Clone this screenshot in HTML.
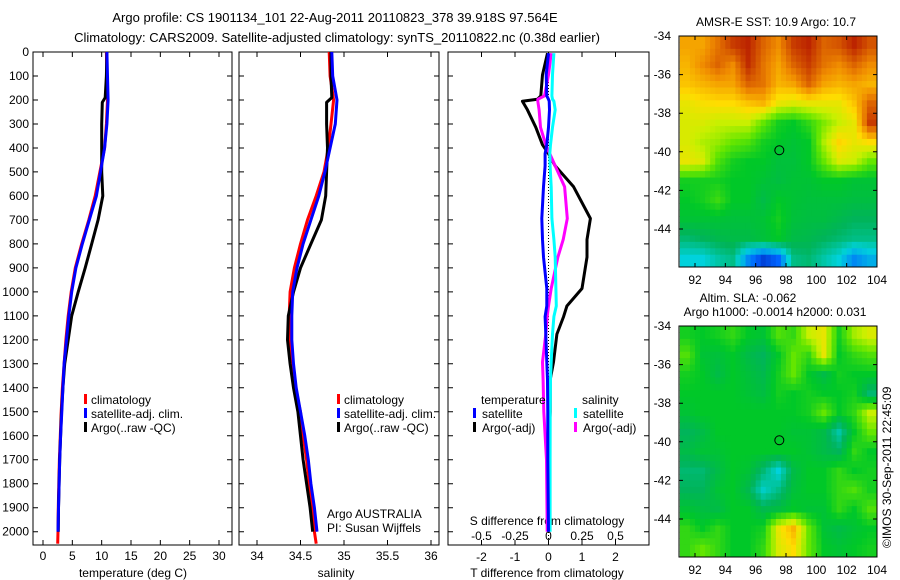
<!DOCTYPE html>
<html><head><meta charset="utf-8">
<style>
html,body{margin:0;padding:0;background:#fff;}
svg{display:block;font-family:"Liberation Sans",Arial,sans-serif;}
text{fill:#000;}
</style></head>
<body>
<svg id="fig" width="900" height="580" viewBox="0 0 900 580" xmlns="http://www.w3.org/2000/svg">
<text x="335" y="22" font-size="13" text-anchor="middle">Argo profile: CS 1901134_101 22-Aug-2011 20110823_378 39.918S 97.564E</text>
<text x="337" y="42" font-size="13" text-anchor="middle">Climatology: CARS2009. Satellite-adjusted climatology: synTS_20110822.nc (0.38d earlier)</text>
<text x="776" y="26" font-size="12" text-anchor="middle">AMSR-E SST: 10.9 Argo: 10.7</text>
<text x="748" y="302" font-size="12" text-anchor="middle">Altim. SLA: -0.062</text>
<text x="775" y="316" font-size="12" text-anchor="middle">Argo h1000: -0.0014 h2000: 0.031</text>
<text transform="translate(891,548) rotate(-90)" font-size="12">©IMOS 30-Sep-2011 22:45:09</text>
<g id="g"></g>
</svg>
<script>
// ---- data ----
const depthTicks = [0,100,200,300,400,500,600,700,800,900,1000,1100,1200,1300,1400,1500,1600,1700,1800,1900,2000];
const tempTicks = [0,5,10,15,20,25,30];
const salTicks = [34,34.5,35,35.5,36];
const salTickLabels = ["34","34.5","35","35.5","36"];
const tdTicks = [-2,-1,0,1,2];
const sdTicks = [-0.5,-0.25,0,0.25,0.5];
const sdTickLabels = ["-0.5","-0.25","0","0.25","0.5"];

const climDepth = [0,100,200,300,400,500,600,700,800,900,1000,1100,1200,1300,1400,1500,1600,1700,1800,1900,2000,2050];
const climTemp = [10.8,10.9,11.0,10.8,10.5,9.7,8.9,7.8,6.6,5.5,4.8,4.3,3.9,3.6,3.3,3.1,2.95,2.8,2.7,2.6,2.55,2.5];
const satTemp  = [10.9,11.0,11.1,10.9,10.5,9.8,9.1,7.9,6.7,5.6,4.9,4.4,4.0,3.6,3.4,3.2,3.0,2.85,2.75,2.65,2.55,null];
const argoDepth = [0,100,190,210,300,400,500,600,700,800,900,1000,1100,1200,1300,1400,1500,1600,1700,1800,1900,2000];
const argoTemp = [10.9,10.8,10.6,10.1,10.0,10.0,10.0,10.2,9.4,8.3,7.2,6.0,4.9,4.3,3.7,3.4,3.15,3.0,2.85,2.75,2.65,2.6];

const climSal = [34.83,34.84,34.88,34.85,34.82,34.77,34.68,34.58,34.50,34.43,34.38,34.37,34.38,34.41,34.44,34.50,34.53,34.57,34.60,34.63,34.66,34.68];
const satSal  = [34.86,34.87,34.92,34.90,34.84,34.78,34.71,34.62,34.53,34.46,34.41,34.40,34.40,34.42,34.45,34.50,34.55,34.59,34.62,34.66,34.69,null];
const argoSal = [34.85,34.85,34.86,34.80,34.80,34.81,34.80,34.79,34.74,34.62,34.50,34.42,34.36,34.35,34.38,34.42,34.47,34.50,34.53,34.57,34.61,34.64];

const diffDepth = [5,95,183,197,205,241,314,387,424,475,562,694,782,855,986,1059,1103,1176,1293,1366,1500,1700,2000];
const tDiffArgo = [-0.03,-0.18,-0.23,-0.33,-0.78,-0.63,-0.38,-0.18,0.0,0.2,0.75,1.25,1.15,1.15,1.0,0.55,0.45,0.25,0.15,0.05,0.05,0.0,0.0];
const sDiffArgo = [0.02,0.0,-0.03,-0.08,-0.08,-0.07,-0.06,-0.02,0.01,0.05,0.12,0.14,0.11,0.07,0.02,0.0,-0.01,-0.02,-0.045,-0.04,-0.035,-0.015,-0.01];
const tDiffSat  = [0.0,-0.07,-0.05,0.0,0.02,0.03,0.0,-0.05,-0.1,-0.1,-0.15,-0.2,-0.18,-0.15,-0.05,-0.05,-0.1,-0.08,-0.05,-0.03,-0.02,-0.02,0.0];
const sDiffSat  = [0.04,0.03,0.025,0.03,0.04,0.05,0.03,0.015,0.01,0.012,0.02,0.025,0.04,0.05,0.055,0.058,0.04,0.03,0.02,0.015,0.013,0.012,0.012];

const mapLonTicks = [92,94,96,98,100,102,104];
const mapLatTicks = [-34,-36,-38,-40,-42,-44];
const argoLon = 97.56, argoLat = -39.92;
const sstGrid = [
[0.82,0.82,0.88,0.95,0.98,0.9,0.85,0.95,0.98,0.9,0.92,0.98,0.92],
[0.8,0.85,0.9,0.85,0.97,0.88,0.82,0.9,0.95,0.88,0.85,0.9,0.85],
[0.78,0.8,0.82,0.82,0.9,0.88,0.8,0.82,0.9,0.82,0.8,0.82,0.8],
[0.72,0.74,0.75,0.75,0.78,0.8,0.72,0.7,0.72,0.72,0.72,0.78,0.9],
[0.7,0.7,0.68,0.68,0.68,0.6,0.52,0.5,0.55,0.62,0.68,0.72,0.95],
[0.7,0.66,0.64,0.6,0.58,0.52,0.5,0.48,0.5,0.66,0.76,0.72,0.75],
[0.72,0.7,0.58,0.52,0.5,0.5,0.47,0.47,0.5,0.6,0.7,0.68,0.6],
[0.52,0.52,0.52,0.5,0.5,0.48,0.46,0.48,0.48,0.5,0.5,0.48,0.48],
[0.5,0.52,0.56,0.5,0.5,0.45,0.5,0.48,0.47,0.47,0.47,0.46,0.46],
[0.48,0.48,0.48,0.47,0.47,0.48,0.52,0.47,0.46,0.46,0.44,0.42,0.42],
[0.4,0.42,0.44,0.45,0.45,0.47,0.5,0.45,0.44,0.42,0.4,0.38,0.38],
[0.3,0.3,0.35,0.38,0.2,0.1,0.15,0.38,0.4,0.35,0.3,0.2,0.25]];
const slaGrid = [
[0.52,0.5,0.52,0.55,0.5,0.48,0.58,0.55,0.68,0.72,0.52,0.65,0.7],
[0.58,0.48,0.47,0.5,0.45,0.42,0.5,0.6,0.55,0.72,0.5,0.55,0.58],
[0.52,0.5,0.45,0.5,0.47,0.44,0.52,0.6,0.5,0.45,0.52,0.5,0.5],
[0.5,0.5,0.5,0.5,0.48,0.46,0.52,0.5,0.52,0.5,0.5,0.52,0.4],
[0.48,0.5,0.5,0.5,0.5,0.5,0.5,0.5,0.52,0.6,0.5,0.55,0.68],
[0.42,0.45,0.5,0.5,0.5,0.5,0.5,0.48,0.48,0.45,0.35,0.5,0.6],
[0.45,0.48,0.48,0.5,0.5,0.5,0.5,0.5,0.48,0.45,0.42,0.55,0.5],
[0.4,0.4,0.45,0.5,0.48,0.4,0.3,0.45,0.5,0.5,0.55,0.5,0.52],
[0.42,0.42,0.48,0.5,0.44,0.32,0.38,0.47,0.5,0.5,0.55,0.58,0.52],
[0.48,0.46,0.45,0.5,0.5,0.44,0.46,0.5,0.48,0.48,0.55,0.5,0.58],
[0.55,0.5,0.55,0.5,0.5,0.52,0.72,0.8,0.6,0.48,0.45,0.48,0.5],
[0.55,0.6,0.55,0.5,0.5,0.55,0.7,0.75,0.6,0.5,0.48,0.5,0.52]];

// ---- helpers ----
const NS="http://www.w3.org/2000/svg";
const G=document.getElementById('g');
function mk(tag,attrs,parent){const e=document.createElementNS(NS,tag);for(const k in attrs)e.setAttribute(k,attrs[k]);(parent||G).appendChild(e);return e;}
const TOP=52,BOT=545;
const yD=d=>TOP+d*(531.7-TOP)/2000;
function lin(d0,d1,p0,p1){return v=>p0+(v-d0)*(p1-p0)/(d1-d0);}
const xT=lin(0,30,43,219), xS=lin(34,36,257,431), xTd=lin(-3,3,448,649), xSd=lin(-0.75,0.75,448,649);

function panel(name,x0,x1){
  const r=mk('rect',{x:x0,y:TOP,width:x1-x0,height:BOT-TOP,fill:'none',stroke:'#000','stroke-width':1});
  
  
  depthTicks.forEach(d=>{
    const y=yD(d);
    const t=mk('path',{d:`M${x0},${y}h5M${x1},${y}h-5`,stroke:'#000','stroke-width':1});
    
    
  });
}
function xticks(name,ticks,labels,sc,y,inner){
  ticks.forEach((v,i)=>{
    const x=sc(v);
    if(inner){const t=mk('path',{d:`M${x},${BOT}v-5M${x},${TOP}v5`,stroke:'#000','stroke-width':1});
      
      }
    const l=mk('text',{x:x,y:y,'font-size':12,'text-anchor':'middle'});
    l.textContent=labels?labels[i]:String(v);
    
    
  });
}
function line(name,ds,vs,sc,color){
  let pts=[];
  ds.forEach((d,i)=>{if(vs[i]!==null&&vs[i]!==undefined)pts.push(sc(vs[i]).toFixed(1)+','+yD(d).toFixed(1));});
  const p=mk('polyline',{points:pts.join(' '),fill:'none',stroke:color,'stroke-width':3,'stroke-linejoin':'round'});
  
  
}
function txt(name,x,y,s,size,anchor){
  const t=mk('text',{x:x,y:y,'font-size':size||12,'text-anchor':anchor||'start'});t.textContent=s;
  
  
  return t;
}
function legMark(name,x,y,color){
  const r=mk('rect',{x:x,y:y-10,width:3,height:10,fill:color});
  
  
}

depthTicks.forEach(d=>{
  const t=mk('text',{x:29,y:yD(d)+4,'font-size':12,'text-anchor':'end'});t.textContent=d;
  
  
});

// panel 1 temperature
panel('temperature-panel',33,232);
xticks('temperature-x',tempTicks,null,xT,560,true);
txt('temperature-x-title',133,577,'temperature (deg C)',12,'middle');
line('temperature-climatology-line',climDepth,climTemp,xT,'#ff0000');
line('temperature-argo-line',argoDepth,argoTemp,xT,'#000000');
line('temperature-satellite-line',climDepth,satTemp,xT,'#0000ff');
legMark('legend-climatology-marker',84,404,'#ff0000');txt('legend-climatology',91,404,'climatology');
legMark('legend-satellite-marker',84,418,'#0000ff');txt('legend-satellite',91,418,'satellite-adj. clim.');
legMark('legend-argo-marker',84,432,'#000000');txt('legend-argo',91,432,'Argo(..raw -QC)');

// panel 2 salinity
panel('salinity-panel',239,439);
xticks('salinity-x',salTicks,salTickLabels,xS,560,true);
txt('salinity-x-title',336,577,'salinity',12,'middle');
line('salinity-climatology-line',climDepth,climSal,xS,'#ff0000');
line('salinity-argo-line',argoDepth,argoSal,xS,'#000000');
line('salinity-satellite-line',climDepth,satSal,xS,'#0000ff');
legMark('legend2-climatology-marker',337,404,'#ff0000');txt('legend2-climatology',344,404,'climatology');
legMark('legend2-satellite-marker',337,418,'#0000ff');txt('legend2-satellite',344,418,'satellite-adj. clim.');
legMark('legend2-argo-marker',337,432,'#000000');txt('legend2-argo',344,432,'Argo(..raw -QC)');
txt('argo-australia-label',327,518,'Argo AUSTRALIA');
txt('pi-label',327,532,'PI: Susan Wijffels');

// panel 3 differences
panel('difference-panel',448,649);
const z=mk('line',{x1:xTd(0),x2:xTd(0),y1:TOP,y2:BOT,stroke:'#000','stroke-width':1,'stroke-dasharray':'1,2'});


xticks('t-diff-x',tdTicks,null,xTd,561,true);
xticks('s-diff-x',sdTicks,sdTickLabels,xSd,540,false);
txt('s-diff-title',547,525,'S difference from climatology',12,'middle');
txt('t-diff-title',547,577,'T difference from climatology',12,'middle');
line('t-diff-argo-line',diffDepth,tDiffArgo,xTd,'#000000');
line('s-diff-argo-line',diffDepth,sDiffArgo,xSd,'#ff00ff');
line('s-diff-satellite-line',diffDepth,sDiffSat,xSd,'#00ffff');
line('t-diff-satellite-line',diffDepth,tDiffSat,xTd,'#0000ff');
txt('legend3-temperature-head',481,404,'temperature');
legMark('legend3-t-satellite-marker',473,418,'#0000ff');txt('legend3-t-satellite',482,418,'satellite');
legMark('legend3-t-argo-marker',473,432,'#000000');txt('legend3-t-argo',482,432,'Argo(-adj)');
txt('legend3-salinity-head',582,404,'salinity');
legMark('legend3-s-satellite-marker',574,418,'#00ffff');txt('legend3-s-satellite',583,418,'satellite');
legMark('legend3-s-argo-marker',574,432,'#ff00ff');txt('legend3-s-argo',583,432,'Argo(-adj)');

// maps
const stops=[[0,[0,0,140]],[0.15,[0,100,255]],[0.3,[0,210,220]],[0.42,[0,180,90]],[0.5,[0,200,40]],[0.6,[100,230,0]],[0.68,[200,240,0]],[0.75,[255,220,0]],[0.85,[240,140,0]],[1,[180,20,0]]];
function cmap(v){v=Math.max(0,Math.min(1,v));for(let i=1;i<stops.length;i++){if(v<=stops[i][0]){const a=stops[i-1],b=stops[i],f=(v-a[0])/(b[0]-a[0]);return 'rgb('+a[1].map((c,k)=>Math.round(c+(b[1][k]-c)*f)).join(',')+')';}}return 'rgb(180,20,0)';}
function sample(grid,fr,fc){
  const rows=grid.length,cols=grid[0].length;
  fr=Math.max(0,Math.min(rows-1,fr));fc=Math.max(0,Math.min(cols-1,fc));
  const r0=Math.floor(fr),c0=Math.floor(fc),r1=Math.min(rows-1,r0+1),c1=Math.min(cols-1,c0+1);
  const a=fr-r0,b=fc-c0;
  return (grid[r0][c0]*(1-b)+grid[r0][c1]*b)*(1-a)+(grid[r1][c0]*(1-b)+grid[r1][c1]*b)*a;
}
function map(name,grid,top){
  const L=679,R=877,B=top+231;
  const xL=lin(92,104,695,877), yL=lin(-34,-44,top,top+193);
  const g=mk('g',{});
  
  
  const rows=grid.length, cols=grid[0].length, SUB=3;
  for(let r=0;r<rows*SUB;r++)for(let c=0;c<cols*SUB;c++){
    const lon0=91+c/SUB, lon1=91+(c+1)/SUB, lat0=-34-r/SUB, lat1=-34-(r+1)/SUB;
    const x0=xL(lon0),x1=xL(lon1),y0=yL(lat0),y1=yL(lat1);
    if(x0>=R||y0>=B)continue;
    const v=sample(grid,(r+0.5)/SUB-0.5,(c+0.5)/SUB-0.5);
    const cx=Math.max(L,x0),cy=Math.max(top,y0);
    const cell=mk('rect',{x:cx,y:cy,width:Math.min(R,x1)-cx+0.5,height:Math.min(B,y1)-cy+0.5,fill:cmap(v)},g);
    
    
  }
  const fr=mk('rect',{x:L,y:top,width:R-L,height:B-top,fill:'none',stroke:'#000','stroke-width':1});
  
  
  mapLonTicks.forEach(lon=>{
    const x=xL(lon);
    const t=mk('path',{d:`M${x},${B}v-4M${x},${top}v4`,stroke:'#000'});
    
    
    txt(name+'-lon-label',x,B+17,String(lon),12,'middle');
  });
  mapLatTicks.forEach(lat=>{
    const y=yL(lat);
    const t=mk('path',{d:`M${L},${y}h4M${R},${y}h-4`,stroke:'#000'});
    
    
    txt(name+'-lat-label',671,y+4,String(lat),12,'end');
  });
  const c=mk('circle',{cx:xL(argoLon),cy:yL(argoLat),r:4.5,fill:'none',stroke:'#000','stroke-width':1});
  
  
}
map('sst-map',sstGrid,36);
map('sla-map',slaGrid,326);
</script>
</body></html>
